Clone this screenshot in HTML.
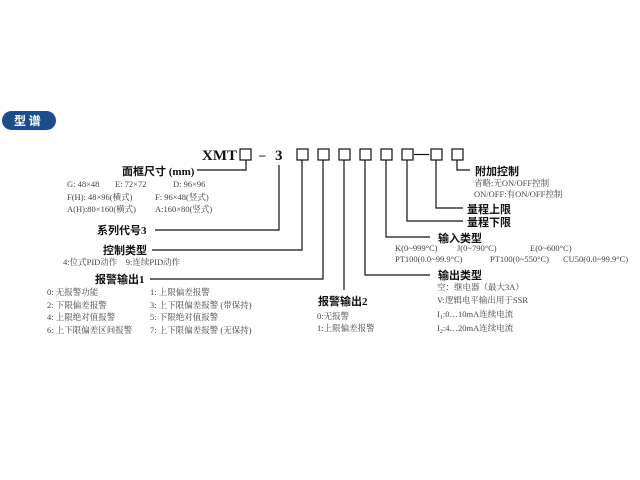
<!DOCTYPE html>
<html><head><meta charset="utf-8"><style>
html,body{margin:0;padding:0;background:#fff;width:640px;height:480px;overflow:hidden}
svg{display:block}
text{font-family:"Liberation Serif","Noto Serif CJK SC","Noto Sans CJK SC",serif;fill:#333}
.b{font-weight:bold;font-size:11px;fill:#111;font-family:"Liberation Serif","Noto Sans CJK SC",sans-serif}
.s{font-size:8.5px;fill:#444}
</style></head><body>
<svg width="640" height="480" viewBox="0 0 640 480">
<rect x="2" y="111" width="54" height="19" rx="9.5" fill="#1b4d8c"/>
<text x="14" y="125" style="font-family:'Noto Sans CJK SC',sans-serif;font-weight:bold;font-size:12px;fill:#fff">型 谱</text>

<text x="202" y="160" style="font-weight:bold;font-size:15px;fill:#111">XMT</text>
<text x="259" y="159" style="font-weight:bold;font-size:13px;fill:#111">–</text>
<text x="275" y="160" style="font-weight:bold;font-size:15px;fill:#111">3</text>
<g fill="none" stroke="#111" stroke-width="1.2">
<rect x="240" y="149" width="11" height="11"/>
<rect x="297" y="149" width="11" height="11"/>
<rect x="318" y="149" width="11" height="11"/>
<rect x="339" y="149" width="11" height="11"/>
<rect x="360" y="149" width="11" height="11"/>
<rect x="381" y="149" width="11" height="11"/>
<rect x="402" y="149" width="11" height="11"/>
<rect x="431" y="149" width="11" height="11"/>
<rect x="452" y="149" width="11" height="11"/>
<line x1="414" y1="154.5" x2="429" y2="154.5"/>
<polyline points="246,160 246,170 197,170"/>
<polyline points="279,165 279,230 155,230"/>
<polyline points="302,160 302,250 152,250"/>
<polyline points="323,160 323,279 150,279"/>
<polyline points="344,160 344,290"/>
<polyline points="365,160 365,275 430,275"/>
<polyline points="386,160 386,237 430,237"/>
<polyline points="407,160 407,221 463,221"/>
<polyline points="436,160 436,208 463,208"/>
<polyline points="457,160 457,170 470,170"/>
</g>

<text class="b" x="122" y="175">面框尺寸 (mm)</text>
<text class="s" x="67" y="187">G: 48×48</text><text class="s" x="115" y="187">E: 72×72</text><text class="s" x="173" y="187">D: 96×96</text>
<text class="s" x="67" y="200">F(H): 48×96(横式)</text><text class="s" x="155" y="200">F: 96×48(竖式)</text>
<text class="s" x="67" y="212">A(H):80×160(横式)</text><text class="s" x="155" y="212">A:160×80(竖式)</text>

<text class="b" x="97" y="234">系列代号3</text>
<text class="b" x="103" y="254">控制类型</text>
<text class="s" x="63" y="265">4:位式PID动作&#160;&#160;&#160;&#160;9:连续PID动作</text>
<text class="b" x="95" y="283">报警输出1</text>
<text class="s" x="47" y="295">0: 无报警功能</text><text class="s" x="150" y="295">1: 上限偏差报警</text>
<text class="s" x="47" y="308">2: 下限偏差报警</text><text class="s" x="150" y="308">3: 上下限偏差报警 (带保持)</text>
<text class="s" x="47" y="320">4: 上限绝对值报警</text><text class="s" x="150" y="320">5: 下限绝对值报警</text>
<text class="s" x="47" y="333">6: 上下限偏差区间报警</text><text class="s" x="150" y="333">7: 上下限偏差报警 (无保持)</text>

<text class="b" x="318" y="305">报警输出2</text>
<text class="s" x="317" y="319">0:无报警</text>
<text class="s" x="317" y="331">1:上限偏差报警</text>

<text class="b" x="438" y="279">输出类型</text>
<text class="s" x="437" y="290">空：继电器（最大3A）</text>
<text class="s" x="437" y="303">V:逻辑电平输出用于SSR</text>
<text class="s" x="437" y="317">I<tspan font-size="6" dy="2">1</tspan><tspan dy="-2">:0…10mA连续电流</tspan></text>
<text class="s" x="437" y="331">I<tspan font-size="6" dy="2">2</tspan><tspan dy="-2">:4…20mA连续电流</tspan></text>

<text class="b" x="438" y="242">输入类型</text>
<text class="s" x="395" y="251">K(0~999°C)</text><text class="s" x="457" y="251">J(0~790°C)</text><text class="s" x="530" y="251">E(0~600°C)</text>
<text class="s" x="395" y="262">PT100(0.0~99.9°C)</text><text class="s" x="490" y="262">PT100(0~550°C)</text><text class="s" x="563" y="262">CU50(0.0~99.9°C)</text>

<text class="b" x="467" y="226">量程下限</text>
<text class="b" x="467" y="213">量程上限</text>
<text class="b" x="475" y="175">附加控制</text>
<text class="s" x="474" y="186">省略:无ON/OFF控制</text>
<text class="s" x="474" y="197">ON/OFF:有ON/OFF控制</text>
</svg>
</body></html>
